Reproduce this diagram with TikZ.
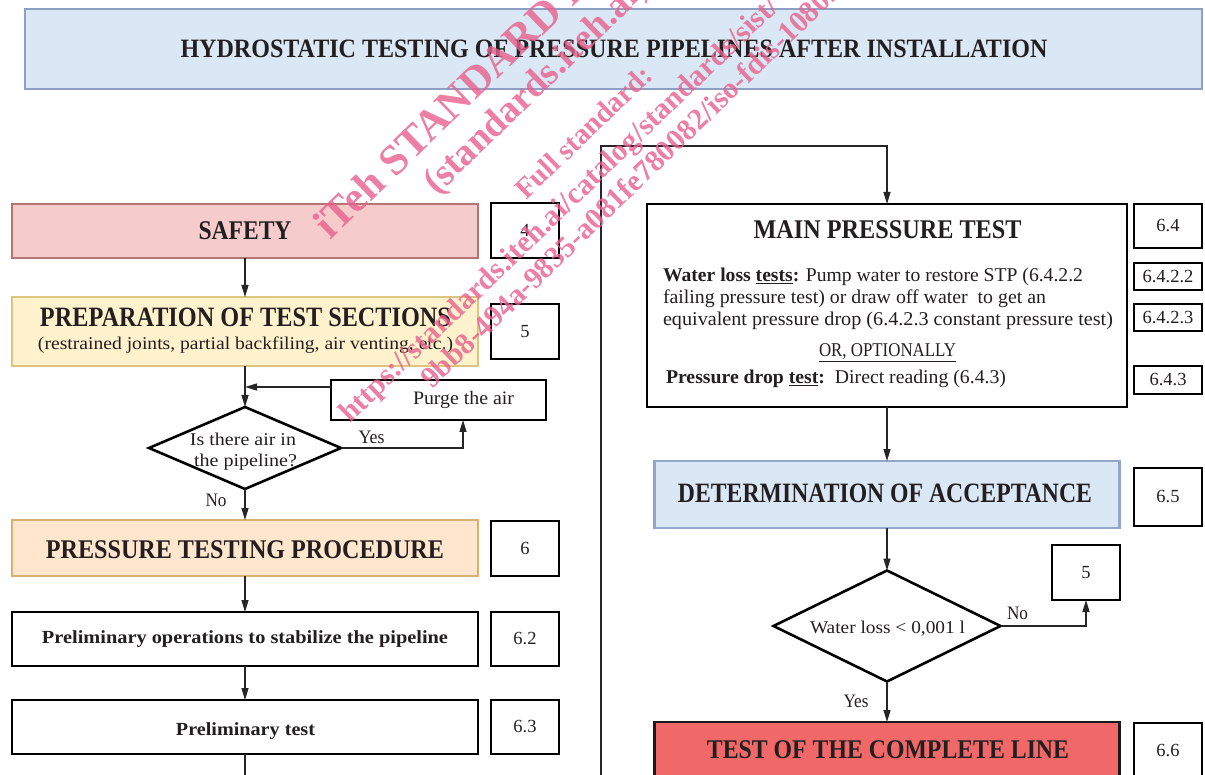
\documentclass[tikz,border=0pt]{standalone}
\usepackage{fontspec}
\setmainfont{Liberation Serif}
\usepackage{graphicx}
\usetikzlibrary{arrows.meta,shapes.geometric}
\definecolor{titleFill}{HTML}{DAE8F5}
\definecolor{titleLine}{HTML}{8E9FC4}
\definecolor{safeFill}{HTML}{F6CBCB}
\definecolor{safeLine}{HTML}{B47474}
\definecolor{prepFill}{HTML}{FFF2CC}
\definecolor{prepLine}{HTML}{DCC580}
\definecolor{ptpFill}{HTML}{FFE6CC}
\definecolor{ptpLine}{HTML}{D6B26C}
\definecolor{doaFill}{HTML}{DAE8F5}
\definecolor{doaLine}{HTML}{94A5CC}
\definecolor{tclFill}{HTML}{F06868}
\definecolor{wmPink}{HTML}{E8608C}
\definecolor{ink}{HTML}{231F20}
\newcommand{\fw}[2]{\resizebox{#1pt}{\height}{#2}}
\tikzset{
  box/.style={draw, line width=2pt, inner sep=0pt, outer sep=0pt},
  refbox/.style={draw=black, line width=2.6pt, fill=white, inner sep=0pt, outer sep=0pt, minimum width=68pt, font=\fontsize{18.5}{22}\selectfont, text=ink},
  txt/.style={inner sep=0pt, outer sep=0pt, anchor=base, text=ink},
  big/.style={txt, font=\fontsize{27}{30}\selectfont\bfseries},
  small/.style={txt, font=\fontsize{19}{22}\selectfont},
  arr/.style={draw=black!85, line width=1.3pt, -{Triangle[length=12pt,width=7pt]}},
  dia/.style={diamond, draw=black, line width=2.6pt, fill=white, inner sep=0pt, outer sep=0pt},
  wm/.style={inner sep=0pt, outer sep=0pt, anchor=base west, rotate=44, text=wmPink, text opacity=0.8},
}
\begin{document}
\begin{tikzpicture}[x=1pt,y=-1pt]
\clip (0,0) rectangle (1205,775);
\fill[white] (0,0) rectangle (1205,775);

% title
\node[box, draw=titleLine, fill=titleFill, line width=2.5pt, minimum width=1177pt, minimum height=80pt] (title) at (613.5,49) {};
\node[big, font=\fontsize{26.5}{30}\selectfont\bfseries] (titleT) at (614,58) {\fw{867}{HYDROSTATIC TESTING OF PRESSURE PIPELINES AFTER INSTALLATION}};

% left column
\node[box, draw=safeLine, fill=safeFill, minimum width=466pt, minimum height=54pt] (safety) at (245,231) {};
\node[big] (safetyT) at (245,240) {\fw{93}{SAFETY}};
\node[refbox, minimum height=55pt] (r4) at (525,230.5) {4};

\node[box, draw=prepLine, fill=prepFill, minimum width=466pt, minimum height=69pt] (prep) at (245,331.5) {};
\node[big, font=\fontsize{28}{30}\selectfont\bfseries] (prepT) at (245.5,327) {\fw{411}{PREPARATION OF TEST SECTIONS}};
\node[small, font=\fontsize{18}{22}\selectfont] (prepS) at (245.5,350) {\fw{415}{(restrained joints, partial backfiling, air venting, etc.)}};
\node[refbox, minimum height=55pt] (r5) at (525,331.5) {5};

\node[box, draw=black, line width=2.4pt, fill=white, minimum width=215pt, minimum height=40pt] (purge) at (438.5,400) {};
\node[small] (purgeT) at (463.5,405) {\fw{101}{Purge the air}};

\node[dia, minimum width=192pt, minimum height=82pt] (d1) at (245,448) {};
\node[small, font=\fontsize{18}{22}\selectfont] (d1a) at (243,446) {\fw{106}{Is there air in}};
\node[small, font=\fontsize{18}{22}\selectfont] (d1b) at (245.5,467) {\fw{103}{the pipeline?}};

\node[box, draw=ptpLine, fill=ptpFill, minimum width=466pt, minimum height=56pt] (ptp) at (245,548) {};
\node[big] (ptpT) at (245,558) {\fw{398}{PRESSURE TESTING PROCEDURE}};
\node[refbox, minimum height=55pt] (r6) at (525,548.5) {6};

\node[box, draw=black, line width=2.4pt, fill=white, minimum width=466pt, minimum height=54pt] (pops) at (245,639) {};
\node[big, font=\fontsize{18.5}{20}\selectfont\bfseries] (popsT) at (245,643.5) {\fw{406}{Preliminary operations to stabilize the pipeline}};
\node[refbox, minimum height=54pt] (r62) at (525,639) {6.2};

\node[box, draw=black, line width=2.4pt, fill=white, minimum width=466pt, minimum height=54pt] (ptest) at (245,727) {};
\node[big, font=\fontsize{18.5}{20}\selectfont\bfseries] (ptestT) at (245.5,735) {\fw{139}{Preliminary test}};
\node[refbox, minimum height=54pt] (r63) at (525,727) {6.3};

% right column
\node[box, draw=black, line width=2.4pt, fill=white, minimum width=480pt, minimum height=203pt] (main) at (887,305.5) {};
\node[big] (mainT) at (887.5,239) {\fw{268}{MAIN PRESSURE TEST}};
\node[txt, anchor=base west, font=\fontsize{19.5}{22}\selectfont] (mainL1) at (663,282) {\fw{420}{\textbf{Water loss \underline{tests}:} Pump water to restore STP (6.4.2.2}};
\node[txt, anchor=base west, font=\fontsize{19.5}{22}\selectfont] (mainL2) at (663,304) {\fw{383}{failing pressure test) or draw off water\ \ to get an}};
\node[txt, anchor=base west, font=\fontsize{19.5}{22}\selectfont] (mainL3) at (663,326) {\fw{450}{equivalent pressure drop (6.4.2.3 constant pressure test)}};
\node[txt, font=\fontsize{19.5}{22}\selectfont] (mainOr) at (887.5,357) {\fw{137}{\underline{OR, OPTIONALLY}}};
\node[txt, anchor=base west, font=\fontsize{19.5}{22}\selectfont] (mainL4) at (666,384) {\fw{340}{\textbf{Pressure drop \underline{test}:}\ \ Direct reading (6.4.3)}};
\node[refbox, minimum height=44pt] (r64) at (1168,226) {6.4};
\node[refbox, minimum height=27pt] (r6422) at (1168,276.5) {6.4.2.2};
\node[refbox, minimum height=27pt] (r6423) at (1168,317.5) {6.4.2.3};
\node[refbox, minimum height=28pt] (r643) at (1168,380) {6.4.3};

\node[box, draw=doaLine, fill=doaFill, line width=2.5pt, minimum width=465pt, minimum height=67pt] (doa) at (887,494.5) {};
\node[big, font=\fontsize{28}{30}\selectfont\bfseries] (doaT) at (885,502) {\fw{414}{DETERMINATION OF ACCEPTANCE}};
\node[refbox, minimum height=58pt] (r65) at (1168,497) {6.5};

\node[dia, minimum width=227pt, minimum height=111pt] (d2) at (887,626) {};
\node[small, font=\fontsize{18}{22}\selectfont] (d2T) at (887.5,633) {\fw{155}{Water loss < 0,001 l}};
\node[refbox, minimum height=55pt] (b5) at (1086,572.5) {5};

\node[box, draw=black!90, line width=2.6pt, fill=tclFill, minimum width=465pt, minimum height=58pt] (tcl) at (887,751) {};
\node[big] (tclT) at (888,758) {\fw{362}{TEST OF THE COMPLETE LINE}};
\node[refbox, minimum height=56pt] (r66) at (1168,751) {6.6};

% connectors
\coordinate (pj) at (245,387);
\coordinate (py) at (463,0);
\coordinate (loopB) at (245,800);
\coordinate (loopT) at (601,146);
\draw[arr] (safety.south) -- (prep.north);
\draw[arr] (prep.south) -- (d1.north);
\draw[arr] (purge.west |- pj) -- (pj);
\draw[arr] (d1.east) -| (py |- purge.south);
\draw[arr] (d1.south) -- (ptp.north);
\draw[arr] (ptp.south) -- (pops.north);
\draw[arr] (pops.south) -- (ptest.north);
\draw[arr] (ptest.south) -- (loopB) -| (loopT) -| (main.north);
\draw[arr] (main.south) -- (doa.north);
\draw[arr] (doa.south) -- (d2.north);
\draw[arr] (d2.east) -| (b5.south);
\draw[arr] (d2.south) -- (tcl.north);

\node[small] (yes1) at (371.5,443) {\fw{26}{Yes}};
\node[small] (no1) at (216,506) {\fw{21}{No}};
\node[small] (no2) at (1017.5,619) {\fw{21}{No}};
\node[small] (yes2) at (856,707) {\fw{25}{Yes}};

% watermark
\node[wm, font=\fontsize{43}{43}\selectfont\bfseries] (wm1) at (330,241) {iTeh STANDARD PREVIEW};
\node[wm, font=\fontsize{38}{38}\selectfont\bfseries] (wm2) at (437,196) {(standards.iteh.ai)};
\node[wm, font=\fontsize{29}{29}\selectfont\bfseries] (wm3) at (526,201) {Full standard:};
\node[wm, font=\fontsize{30}{30}\selectfont\bfseries] (wm4) at (350,424) {https://standards.iteh.ai/catalog/standards/sist/};
\node[wm, font=\fontsize{30}{30}\selectfont\bfseries] (wm5) at (432,390) {9bb8-494a-9835-a081fe780082/iso-fdis-10802};
\end{tikzpicture}
\end{document}
